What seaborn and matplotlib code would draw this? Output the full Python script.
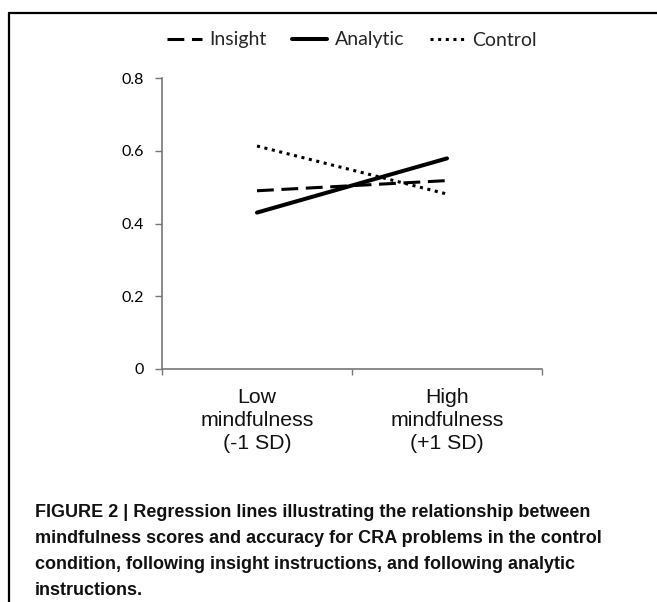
import matplotlib
matplotlib.use("Agg")
import matplotlib.pyplot as plt
from matplotlib.lines import Line2D
import seaborn as sns
import pandas as pd

sns.set_theme(style="white")

# Data
levels = ["Low\nmindfulness\n(-1 SD)", "High\nmindfulness\n(+1 SD)"]
insight = [0.49, 0.518]
analytic = [0.43, 0.579]
control = [0.613, 0.481]
conditions = ["Insight", "Analytic", "Control"]
yticks = [0, 0.2, 0.4, 0.6, 0.8]
ytick_labels = ["0", "0.2", "0.4", "0.6", "0.8"]
caption_lines = [
    "FIGURE 2 | Regression lines illustrating the relationship between",
    "mindfulness scores and accuracy for CRA problems in the control",
    "condition, following insight instructions, and following analytic",
    "instructions.",
]

df = pd.DataFrame({
    "level": list(range(len(levels))) * 3,
    "accuracy": insight + analytic + control,
    "condition": [c for c in conditions for _ in levels],
})

W, H = 657, 602
fig = plt.figure(figsize=(W / 100, H / 100), dpi=100)
ax = fig.add_axes([162 / W, 1 - 369 / H, (542 - 162) / W, (369 - 78) / H])

styles = {
    "Insight": dict(lw=2.2, dashes=(5.5, 2.5)),
    "Analytic": dict(lw=2.9, dashes=()),
    "Control": dict(lw=2.2, dashes=(1, 1.5)),
}
handles = []
for cond in conditions:
    sub = df[df["condition"] == cond]
    st = styles[cond]
    sns.lineplot(data=sub, x="level", y="accuracy", ax=ax, color="black", lw=st["lw"])
    ax.lines[-1].set_dash_capstyle("butt")
    if st["dashes"]:
        ax.lines[-1].set_dashes(st["dashes"])
    h = Line2D([], [], color="black", lw=st["lw"])
    if st["dashes"]:
        h.set_dashes(st["dashes"])
    handles.append(h)

ax.set_xlim(-0.5, 1.5)
ax.set_ylim(0, 0.8)
ax.set_xlabel("")
ax.set_ylabel("")
ax.set_yticks(yticks)
ax.set_yticklabels(ytick_labels, fontfamily="Lato", fontsize=11.5, color="black")
ax.set_xticks([0, 1])
ax.set_xticklabels(levels, fontfamily="Liberation Sans", fontsize=15.3, color="#111111",
                   linespacing=1.25)
ax.set_xticks([-0.5, 0.5, 1.5], minor=True)
ax.tick_params(axis="x", which="major", length=0, pad=14)
ax.tick_params(axis="x", which="minor", length=4, width=1, color="#777777", direction="out", bottom=True)
ax.tick_params(axis="y", length=5, width=1, color="#777777", direction="out", left=True, pad=8)
for s in ["top", "right"]:
    ax.spines[s].set_visible(False)
for s in ["left", "bottom"]:
    ax.spines[s].set_color("#777777")
    ax.spines[s].set_linewidth(1.2)
ax.grid(False)

fig.legend(handles, conditions, loc="center", bbox_to_anchor=(352 / W, 1 - 40 / H),
           ncol=3, frameon=False, prop={"family": "Lato", "size": 14},
           handlelength=1.8, columnspacing=1.3, handletextpad=0.4)

# frame lines around the figure panel
fig.add_artist(Line2D([8.5 / W, 8.5 / W], [0, 1 - 12.5 / H], transform=fig.transFigure, color="black", lw=1.6))
fig.add_artist(Line2D([8.5 / W, 1], [1 - 12.5 / H, 1 - 12.5 / H], transform=fig.transFigure, color="black", lw=1.6))

for i, line in enumerate(caption_lines):
    fig.text(35 / W, 1 - (517 + 26 * i) / H, line, fontfamily="Liberation Sans",
             fontweight="bold", fontsize=13, va="baseline", ha="left", color="#111111")

fig.savefig("out.png", dpi=100)
